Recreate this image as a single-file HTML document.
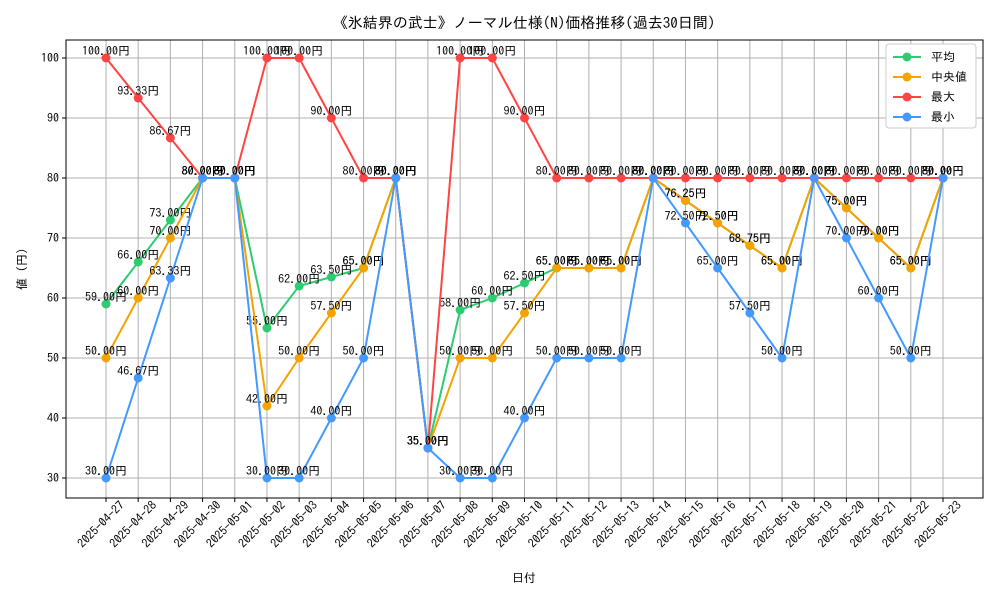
<!DOCTYPE html>
<html><head><meta charset="utf-8"><style>
body{margin:0;background:#fff}
svg text{font-family:"IPAGothic","Liberation Sans","Noto Sans CJK JP",sans-serif}
</style></head><body>
<svg id="c" width="1000" height="600"></svg>
<script>
const dates=["2025-04-27","2025-04-28","2025-04-29","2025-04-30","2025-05-01","2025-05-02","2025-05-03","2025-05-04","2025-05-05","2025-05-06","2025-05-07","2025-05-08","2025-05-09","2025-05-10","2025-05-11","2025-05-12","2025-05-13","2025-05-14","2025-05-15","2025-05-16","2025-05-17","2025-05-18","2025-05-19","2025-05-20","2025-05-21","2025-05-22","2025-05-23"];
const meanVals=[59,66,73,80,80,55,62,63.5,65,80,35,58,60,62.5,65,65,65,80,76.25,72.5,68.75,65,80,75,70,65,80];
const medianVals=[50,60,70,80,80,42,50,57.5,65,80,35,50,50,57.5,65,65,65,80,76.25,72.5,68.75,65,80,75,70,65,80];
const maxVals=[100,93.33,86.67,80,80,100,100,90,80,80,35,100,100,90,80,80,80,80,80,80,80,80,80,80,80,80,80];
const minVals=[30,46.67,63.33,80,80,30,30,40,50,80,35,30,30,40,50,50,50,80,72.5,65,57.5,50,80,70,60,50,80];
const yTicks=[30,40,50,60,70,80,90,100];
const seriesNames=["平均","中央値","最大","最小"];
const NS="http://www.w3.org/2000/svg",svg=document.getElementById('c');
function el(t,a,txt){const e=document.createElementNS(NS,t);for(const k in a)e.setAttribute(k,a[k]);if(txt!==undefined)e.textContent=txt;svg.appendChild(e);return e;}
const L=66,R=983,T=40,B=498;
const x=i=>106+i*(943-106)/(dates.length-1);
const y=v=>58+(100-v)*(478-58)/70;
yTicks.forEach(v=>{const g=el('line',{x1:L,x2:R,y1:y(v),y2:y(v),stroke:'#b0b0b0','stroke-width':1});
const tl=el('line',{x1:L-4,x2:L,y1:y(v),y2:y(v),stroke:'#000'});
const t=el('text',{x:L-7,y:y(v)+4,'text-anchor':'end','font-size':12},String(v));});
dates.forEach((d,i)=>{const g=el('line',{x1:x(i),x2:x(i),y1:T,y2:B,stroke:'#b0b0b0','stroke-width':1});
const tl=el('line',{x1:x(i),x2:x(i),y1:B,y2:B+4,stroke:'#000'});
const tx=x(i)+19,ty=B+8;
const t=el('text',{x:tx,y:ty,'text-anchor':'end','font-size':12,transform:`rotate(-45 ${tx} ${ty})`},d);});
const fr=el('rect',{x:L,y:T,width:R-L,height:B-T,fill:'none',stroke:'#000'});
const series=[[meanVals,'#2ecc71','mean'],[medianVals,'#f5a300','median'],[maxVals,'#ff4444','max'],[minVals,'#4499ff','min']];
series.forEach(([vals,c,n])=>{
const p=el('polyline',{points:vals.map((v,i)=>x(i)+','+y(v)).join(' '),fill:'none',stroke:c,'stroke-width':2});
vals.forEach((v,i)=>{const m=el('circle',{cx:x(i),cy:y(v),r:4.5,fill:c});
const t=el('text',{x:x(i),y:y(v)-3,'text-anchor':'middle','font-size':12},v.toFixed(2)+'円');});});
const lg=el('rect',{x:886,y:44,width:90,height:84,fill:'#fff',stroke:'#ccc',rx:3});
series.forEach(([v,c,n],k)=>{const yy=57+k*20;
const l=el('line',{x1:893,x2:921,y1:yy,y2:yy,stroke:c,'stroke-width':2});
const m=el('circle',{cx:907,cy:yy,r:4.5,fill:c});
const t=el('text',{x:931,y:yy+4,'font-size':12},seriesNames[k]);});
const ti=el('text',{x:524,y:28,'text-anchor':'middle','font-size':15},'《氷結界の武士》ノーマル仕様(N)価格推移(過去30日間)');
const xl=el('text',{x:524,y:582,'text-anchor':'middle','font-size':12},'日付');
const yl=el('text',{x:26,y:269,'text-anchor':'middle','font-size':12,transform:'rotate(-90 26 269)'},'値 (円)');
</script></body></html>
